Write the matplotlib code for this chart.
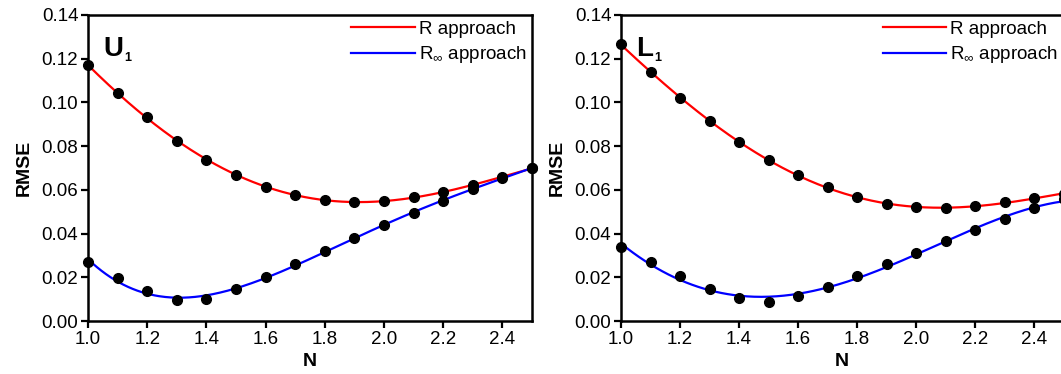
import numpy as np
import matplotlib
matplotlib.use("Agg")
import matplotlib.pyplot as plt

plt.rcParams['font.family'] = ['Liberation Sans', 'DejaVu Sans']
plt.rcParams['mathtext.fontset'] = 'custom'
plt.rcParams['mathtext.rm'] = 'Liberation Sans'
plt.rcParams['mathtext.bf'] = 'Liberation Sans:bold'

# N values shared by both panels
n_vals = [1.0, 1.1, 1.2, 1.3, 1.4, 1.5, 1.6, 1.7, 1.8, 1.9, 2.0, 2.1, 2.2, 2.3, 2.4, 2.5]

# panel U1
u1_r = [0.117, 0.1042, 0.0932, 0.0825, 0.0738, 0.0668, 0.0614, 0.0576,
        0.0554, 0.0544, 0.0549, 0.0567, 0.0590, 0.0621, 0.0658, 0.0700]
u1_rinf = [0.0271, 0.0198, 0.0137, 0.0096, 0.0102, 0.0145, 0.0201, 0.0262,
           0.0320, 0.0380, 0.0438, 0.0495, 0.0549, 0.0604, 0.0655, 0.0700]

# panel L1
l1_r = [0.1266, 0.1138, 0.1022, 0.0916, 0.0820, 0.0737, 0.0668, 0.0612,
        0.0566, 0.0535, 0.0520, 0.0516, 0.0525, 0.0543, 0.0564, 0.0581]
l1_rinf = [0.0340, 0.0271, 0.0207, 0.0148, 0.0104, 0.0087, 0.0113, 0.0157,
           0.0207, 0.0261, 0.0313, 0.0364, 0.0415, 0.0467, 0.0516, 0.0556]

panels = [("U", u1_r, u1_rinf), ("L", l1_r, l1_rinf)]
xticks = [1.0, 1.2, 1.4, 1.6, 1.8, 2.0, 2.2, 2.4]
yticks = [0.00, 0.02, 0.04, 0.06, 0.08, 0.10, 0.12, 0.14]

W, H = 1061, 374
fig = plt.figure(figsize=(W / 100, H / 100), dpi=100)
boxes = [[88 / W, 53 / H, 444 / W, 306 / H],
         [621 / W, 53 / H, 442.5 / W, 306 / H]]

for box, (name, r_vals, rinf_vals) in zip(boxes, panels):
    ax = fig.add_axes(box)
    x = np.array(n_vals)
    xs = np.linspace(1.0, 2.5, 300)
    # fitted curves through the points
    for vals, col, lab in [(r_vals, '#ff0000', 'R approach'),
                           (rinf_vals, '#0000ff', r'R$_{\infty}$ approach')]:
        coef = np.polyfit(x, vals, 4)
        ax.plot(xs, np.polyval(coef, xs), color=col, lw=1.6, label=lab, zorder=2)
        ax.plot(x, vals, 'o', color='black', ms=7, zorder=3, clip_on=False)

    ax.set_xlim(1.0, 2.5)
    ax.set_ylim(0.0, 0.14)
    ax.set_xticks(xticks)
    ax.set_yticks(yticks)
    ax.set_xticklabels([f"{t:.1f}" for t in xticks])
    ax.set_yticklabels([f"{t:.2f}" for t in yticks])
    ax.tick_params(direction='out', length=5, width=1.6, labelsize=13.5, pad=2)
    for sp in ax.spines.values():
        sp.set_linewidth(1.8)
    ax.set_xlabel("N", fontsize=14, fontweight='bold', labelpad=4)
    ax.set_ylabel("RMSE", fontsize=14, fontweight='bold', labelpad=6)

    # panel tag with small subscript
    tag = ax.text(0.034, 0.93, name, transform=ax.transAxes, fontsize=20,
                  fontweight='bold', va='top', ha='left')
    ax.annotate("1", xy=(1, 0), xycoords=tag, xytext=(1, -1),
                textcoords='offset points', fontsize=9, fontweight='bold',
                ha='left', va='bottom')

    ax.legend(loc='upper right', frameon=False, fontsize=13.5, handlelength=3.4,
              handletextpad=0.2, borderaxespad=0.0, labelspacing=0.35,
              borderpad=0.3)

fig.savefig("out.png", dpi=100)
